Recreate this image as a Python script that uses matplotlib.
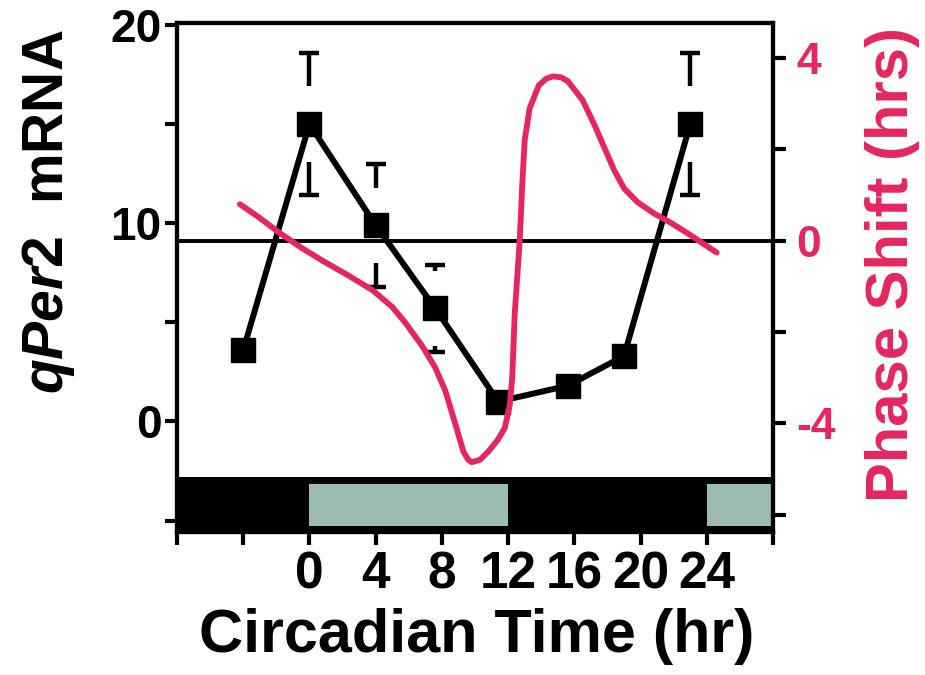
import numpy as np
import matplotlib
matplotlib.use('Agg')
import matplotlib.pyplot as plt

plt.rcParams['font.family'] = ['Liberation Sans', 'DejaVu Sans']
plt.rcParams['font.weight'] = 'bold'
plt.rcParams['axes.unicode_minus'] = False
plt.rcParams['mathtext.fontset'] = 'custom'
plt.rcParams['mathtext.it'] = 'Liberation Sans:italic:bold'
plt.rcParams['mathtext.rm'] = 'Liberation Sans:bold'

# qPer2 mRNA (left axis)
ct_mrna = [-4, 0, 4, 7.6, 11.4, 15.6, 19.0, 23.0]
mrna = [3.6, 15.0, 9.9, 5.7, 1.0, 1.8, 3.3, 15.0]
mrna_err = [0, 3.6, 3.1, 2.2, 0, 0, 0, 3.6]

# phase response curve (right axis)
ct_prc = [-4.2, -3.0, -1.8, -0.5, 0.8, 2.3, 3.8, 5.0, 5.8, 6.8, 7.6, 8.2, 8.8,
          9.3, 9.6, 9.8, 10.3, 10.8, 11.4, 11.8, 12.1, 12.25, 12.4, 12.55, 12.7,
          12.85, 13.0, 13.3, 13.85, 14.3, 14.7, 15.2, 15.6, 16.5, 17.2, 17.8, 18.4, 19.0,
          19.8, 20.8, 21.8, 22.9, 24.6]
phase_shift = [0.80, 0.50, 0.17, -0.15, -0.44, -0.75, -1.08, -1.45, -1.80,
               -2.30, -2.78, -3.28, -4.00, -4.62, -4.80, -4.85, -4.80, -4.62, -4.35,
               -4.10, -3.60, -3.00, -1.60, -0.80, 0.00, 1.20, 2.20, 2.90, 3.40,
               3.55, 3.60, 3.58, 3.50, 3.08, 2.55, 2.05, 1.55, 1.15, 0.85, 0.60, 0.40, 0.15,
               -0.26]

# light/dark bar
dark_periods = [(-8, 36)]
light_periods = [(0, 12), (24, 4)]

xticks = list(range(-8, 29, 4))
xticklabels = ['' if (t < 0 or t > 24) else str(t) for t in xticks]

pink = '#e5265f'
light_col = '#9dbcb0'

fig = plt.figure(figsize=(9.25, 6.75), dpi=100)
ax = fig.add_axes([177/925, 1-532/675, (773-177)/925, (532-23)/675])
ax2 = ax.twinx()

ax.set_xlim(-8, 28)
ax.set_ylim(-5.58, 20.1)
ax2.set_ylim(-6.38, 4.77)

# LD bar along the bottom
ax.broken_barh(dark_periods, (-5.58, 2.79), facecolor='black', edgecolor='none', zorder=1)
ax.broken_barh(light_periods, (-5.3, 2.15), facecolor=light_col, edgecolor='none', zorder=2)

# mRNA line + squares
ax.plot(ct_mrna, mrna, color='black', lw=4.3, marker='s', ms=17, zorder=3)

# error bars drawn as caps with short stems (gap near the point)
gap = 1.9
for x, y, e in zip(ct_mrna, mrna, mrna_err):
    if e > gap:
        ax.vlines([x, x], [y + gap, y - e], [y + e, y - gap], color='black', lw=3.2, zorder=3)
        ax.plot([x, x], [y + e, y - e], ls='none', marker='_', ms=15, mew=3.2, color='black', zorder=3)

# zero line for phase shift and the PRC
ax2.axhline(0, color='black', lw=2.8, zorder=1)
ax2.plot(ct_prc, phase_shift, color=pink, lw=4.2, solid_capstyle='round',
         solid_joinstyle='round', zorder=2)

# axes styling
for a in (ax, ax2):
    for s in a.spines.values():
        s.set_linewidth(3)

ax.set_xticks(xticks)
ax.set_xticklabels(xticklabels)
ax.set_yticks([0, 10, 20])
ax.set_yticks([-5, 5, 15], minor=True)
ax2.set_yticks([-4, 0, 4])
ax2.set_yticks([-6, -2, 2], minor=True)

ax.tick_params(axis='x', which='both', direction='out', length=9, width=3, labelsize=37, pad=4)
ax.tick_params(axis='y', which='both', direction='out', length=9, width=3, labelsize=33, pad=2)
ax2.tick_params(axis='y', which='both', direction='out', length=9, width=3, labelsize=32,
                pad=8, labelcolor=pink)

ax.set_xlabel('Circadian Time (hr)', fontsize=44, fontweight='bold', va='center')
ax.xaxis.set_label_coords(0.503, -0.205)
ax.set_ylabel(r'$\mathit{qPer2}$  mRNA', fontsize=41, fontweight='bold', va='center')
ax.yaxis.set_label_coords(-0.215, 0.629)
ax2.set_ylabel('Phase Shift (hrs)', fontsize=43, fontweight='bold', color=pink, va='center')
ax2.yaxis.set_label_coords(1.201, 0.525)

fig.savefig('out.png', dpi=100)
